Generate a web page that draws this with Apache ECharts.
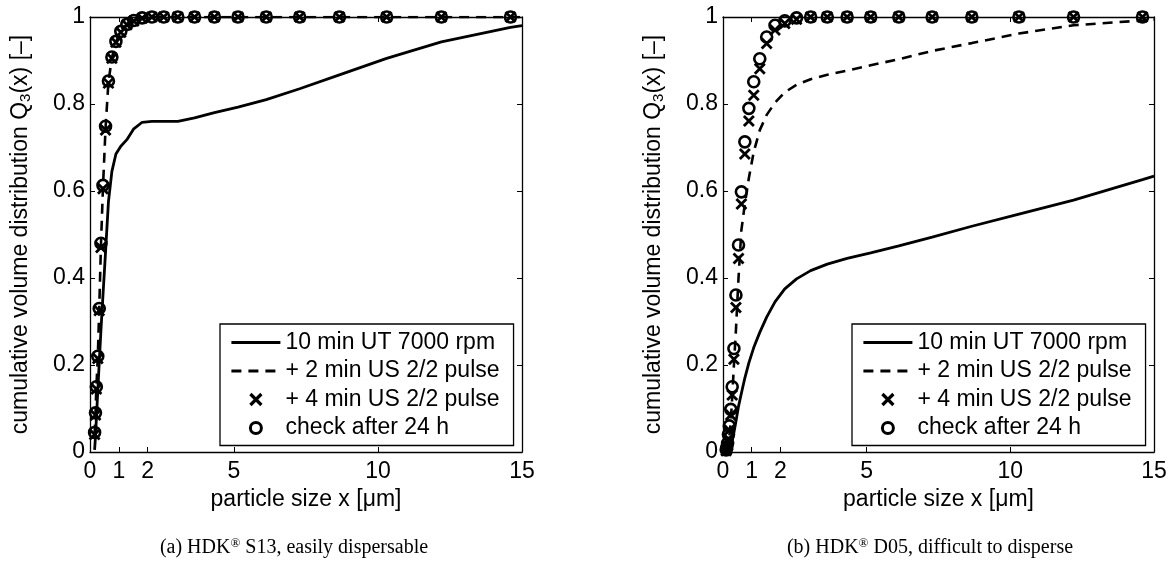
<!DOCTYPE html>
<html>
<head>
<meta charset="utf-8">
<script src="https://cdn.jsdelivr.net/npm/echarts@6/dist/echarts.min.js"></script>
<style>
    html, body { margin: 0; padding: 0; background: #fff; }
    #chart { width: 1174px; height: 578px; }
</style>
</head>
<body>
<div id="chart"></div>
<script>
    // particle size classes [µm] (last one only closes the lines at the axis end)
    const sizeBins = [0.11, 0.13, 0.16, 0.19, 0.22, 0.27, 0.32, 0.38, 0.45, 0.54, 0.64, 0.76, 0.90, 1.07, 1.28,
        1.52, 1.81, 2.15, 2.56, 3.05, 3.63, 4.32, 5.14, 6.12, 7.28, 8.66, 10.3, 12.2, 14.6, 15];

    const xTicks = [0, 1, 2, 5, 10, 15];
    const seriesNames = ['10 min UT 7000 rpm', '+ 2 min US 2/2 pulse', '+ 4 min US 2/2 pulse', 'check after 24 h'];

    // (a) HDK S13
    const s13_ut = [null, null, 0.005, 0.035, 0.075, 0.14, 0.205, 0.28, 0.36, 0.46, 0.575, 0.645, 0.685, 0.703, 0.718,
        0.743, 0.758, 0.76, 0.76, 0.76, 0.768, 0.78, 0.793, 0.81, 0.835, 0.867, 0.905, 0.943, 0.976, 0.98];
    const s13_us2 = [null, null, 0.04, 0.087, 0.147, 0.217, 0.327, 0.475, 0.608, 0.745, 0.85, 0.906, 0.943, 0.966, 0.982,
        0.991, 0.997, 1, 1, 1, 1, 1, 1, 1, 1, 1, 1, 1, 1, 1];
    const s13_us4 = [null, null, 0.04, 0.085, 0.145, 0.215, 0.325, 0.47, 0.605, 0.74, 0.848, 0.905, 0.942, 0.965, 0.982,
        0.991, 0.997, 1, 1, 1, 1, 1, 1, 1, 1, 1, 1, 1, 1, null];
    const s13_24h = [null, null, 0.045, 0.09, 0.15, 0.22, 0.33, 0.48, 0.613, 0.749, 0.853, 0.908, 0.944, 0.967, 0.983,
        0.992, 0.998, 1, 1, 1, 1, 1, 1, 1, 1, 1, 1, 1, 1, null];

    // (b) HDK D05
    const d05_ut = [null, null, null, null, 0.002, 0.012, 0.025, 0.045, 0.07, 0.105, 0.135, 0.17, 0.205, 0.24, 0.275,
        0.31, 0.345, 0.375, 0.398, 0.417, 0.432, 0.445, 0.458, 0.474, 0.494, 0.519, 0.547, 0.579, 0.626, 0.634];
    const d05_us2 = [0.0, 0.003, 0.008, 0.018, 0.035, 0.07, 0.125, 0.2, 0.28, 0.4, 0.51, 0.57, 0.63, 0.69, 0.74,
        0.775, 0.803, 0.827, 0.844, 0.857, 0.867, 0.877, 0.889, 0.903, 0.922, 0.94, 0.962, 0.981, 0.992, 0.994];
    const d05_us4 = [0.003, 0.007, 0.015, 0.03, 0.05, 0.085, 0.131, 0.213, 0.332, 0.445, 0.57, 0.685, 0.761, 0.82, 0.881,
        0.939, 0.97, 0.985, 0.995, 1, 1, 1, 1, 1, 1, 1, 1, 1, 1, null];
    const d05_24h = [0.005, 0.01, 0.02, 0.04, 0.06, 0.098, 0.15, 0.238, 0.361, 0.476, 0.598, 0.713, 0.79, 0.851, 0.904,
        0.954, 0.981, 0.991, 0.998, 1, 1, 1, 1, 1, 1, 1, 1, 1, 1, null];

    const FONT = '"Liberation Sans", Arial, Helvetica, sans-serif';
    const SERIF = '"Liberation Serif", "Times New Roman", serif';
    const CROSS = 'path://M0 0L10 10M10 0L0 10';

    let chart = echarts.init(document.getElementById('chart'), null, {renderer: 'canvas'});

    function pairs(xs, ys) {
        return xs.map(function (x, i) { return [x, ys[i]]; }).filter(function (p) { return p[1] != null; });
    }

    function xAxisFor(grid, top) {
        return {
            gridIndex: grid, type: 'value', min: 0, max: 15, position: top ? 'top' : 'bottom',
            axisLine: {show: true, onZero: false, lineStyle: {color: '#000', width: 1.3}},
            axisTick: {show: true, inside: true, length: 5, customValues: xTicks, lineStyle: {color: '#000', width: 1}},
            axisLabel: {show: !top, customValues: xTicks, color: '#000', fontSize: 23, fontFamily: FONT, margin: 8},
            splitLine: {show: false},
            name: top ? '' : 'particle size x [μm]', nameLocation: 'middle', nameGap: 31,
            nameTextStyle: {color: '#000', fontSize: 23, fontFamily: FONT}
        };
    }

    function yAxisFor(grid, right) {
        return {
            gridIndex: grid, type: 'value', min: 0, max: 1, interval: 0.2, position: right ? 'right' : 'left',
            axisLine: {show: true, onZero: false, lineStyle: {color: '#000', width: 1.3}},
            axisTick: {show: true, inside: true, length: 5, lineStyle: {color: '#000', width: 1}},
            axisLabel: {show: !right, color: '#000', fontSize: 23, fontFamily: FONT, margin: 5},
            splitLine: {show: false},
            name: right ? '' : 'cumulative volume distribution Q{s|3}(x) [–]', nameLocation: 'middle', nameGap: 57,
            nameTextStyle: {
                color: '#000', fontSize: 23, fontFamily: FONT,
                rich: {s: {color: '#000', fontSize: 15, fontFamily: FONT, padding: [10, 0, 0, 0]}}
            }
        };
    }

    function panelSeries(axisIdx, ut, us2, us4, h24) {
        return [
            {
                name: seriesNames[0], type: 'line', xAxisIndex: axisIdx, yAxisIndex: axisIdx,
                data: pairs(sizeBins, ut), symbol: 'none', showSymbol: false,
                itemStyle: {color: '#000', opacity: 0},
                lineStyle: {color: '#000', width: 2.8, opacity: 1}
            },
            {
                name: seriesNames[1], type: 'line', xAxisIndex: axisIdx, yAxisIndex: axisIdx,
                data: pairs(sizeBins, us2), symbol: 'none', showSymbol: false,
                itemStyle: {color: '#000', opacity: 0},
                lineStyle: {color: '#000', width: 2.6, type: [10, 7], opacity: 1}
            },
            {
                name: seriesNames[2], type: 'scatter', xAxisIndex: axisIdx, yAxisIndex: axisIdx,
                data: pairs(sizeBins, us4), symbol: CROSS, symbolSize: 10,
                itemStyle: {color: 'none', borderColor: '#000', borderWidth: 2.8, opacity: 1}
            },
            {
                name: seriesNames[3], type: 'scatter', xAxisIndex: axisIdx, yAxisIndex: axisIdx,
                data: pairs(sizeBins, h24), symbol: 'circle', symbolSize: 11,
                itemStyle: {color: 'none', borderColor: '#000', borderWidth: 2.6, opacity: 1}
            }
        ];
    }

    function legendAt(left) {
        return {
            orient: 'vertical', left: left, top: 324, selectedMode: false,
            padding: [7, 14, 6, 10], itemWidth: 49, itemHeight: 11, itemGap: 5.5,
            borderColor: '#000', borderWidth: 1.3, backgroundColor: '#fff',
            textStyle: {color: '#000', fontSize: 23, lineHeight: 23, fontFamily: FONT},
            data: [
                {name: seriesNames[0], lineStyle: {width: 2.8}},
                {name: seriesNames[1], lineStyle: {width: 2.8, type: [10, 7]}},
                {name: seriesNames[2], itemStyle: {borderWidth: 3.2}},
                {name: seriesNames[3], itemStyle: {borderWidth: 3}}
            ]
        };
    }

    function caption(x, text) {
        return {
            type: 'text', x: x, y: 548, silent: true,
            style: {
                text: text, align: 'center', verticalAlign: 'middle', fill: '#000',
                fontSize: 20, fontFamily: SERIF,
                rich: {sup: {fontSize: 13, fontFamily: SERIF, fill: '#000', padding: [0, 0, 9, 0]}}
            }
        };
    }

    let option = {
        animation: false,
        backgroundColor: '#fff',
        textStyle: {fontFamily: FONT},
        grid: [
            {left: 90, top: 17, width: 432, height: 435},
            {left: 723, top: 17, width: 431, height: 435}
        ],
        xAxis: [xAxisFor(0, false), xAxisFor(0, true), xAxisFor(1, false), xAxisFor(1, true)],
        yAxis: [yAxisFor(0, false), yAxisFor(0, true), yAxisFor(1, false), yAxisFor(1, true)],
        legend: [legendAt(220), legendAt(852)],
        series: panelSeries(0, s13_ut, s13_us2, s13_us4, s13_24h)
            .concat(panelSeries(2, d05_ut, d05_us2, d05_us4, d05_24h)),
        graphic: [
            caption(294, '(a) HDK{sup|®} S13, easily dispersable'),
            caption(930, '(b) HDK{sup|®} D05, difficult to disperse')
        ]
    };

    chart.setOption(option);
</script>
</body>
</html>
